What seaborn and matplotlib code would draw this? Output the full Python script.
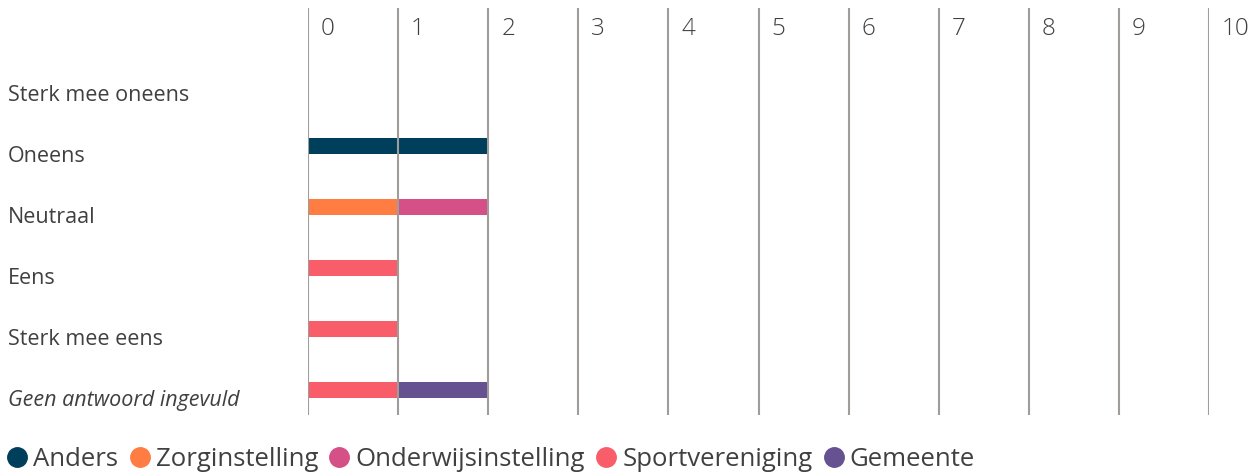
import pandas as pd
import seaborn as sns
import matplotlib.pyplot as plt
from matplotlib.lines import Line2D
from matplotlib.transforms import ScaledTranslation

# DATA
categories = ['Sterk mee oneens', 'Oneens', 'Neutraal', 'Eens',
              'Sterk mee eens', 'Geen antwoord ingevuld']
groups = ['Anders', 'Zorginstelling', 'Onderwijsinstelling',
          'Sportvereniging', 'Gemeente']
anders = [0, 2, 0, 0, 0, 0]
zorginstelling = [0, 0, 1, 0, 0, 0]
onderwijsinstelling = [0, 0, 1, 0, 0, 0]
sportvereniging = [0, 0, 0, 1, 1, 1]
gemeente = [0, 0, 0, 0, 0, 1]
x_ticks = list(range(0, 11))

colors = ['#003f5c', '#ff7c43', '#d45087', '#f95d6a', '#665191']
text_color = '#404040'
grid_color = '#a09c9a'

rows = []
for g, vals in zip(groups, [anders, zorginstelling, onderwijsinstelling,
                            sportvereniging, gemeente]):
    for c, v in zip(categories, vals):
        rows.append({'antwoord': c, 'groep': g, 'aantal': v})
df = pd.DataFrame(rows)
df['antwoord'] = pd.Categorical(df['antwoord'], categories=categories)

sns.set_theme(style='white')
plt.rcParams['font.family'] = ['Open Sans', 'DejaVu Sans']

fig = plt.figure(figsize=(12.57, 4.75), dpi=100)
ax = fig.add_axes([308 / 1257, 1 - 415 / 475, (1209 - 308) / 1257, (415 - 8) / 475])

# histplot stacks the last hue level first, so hand it the order reversed
sns.histplot(data=df, y='antwoord', weights='aantal', hue='groep',
             hue_order=groups[::-1], palette=dict(zip(groups, colors)),
             multiple='stack', discrete=True, shrink=0.27, linewidth=0,
             alpha=1, legend=False, ax=ax)

ax.set_xlim(0, 10)
ax.set_ylim(5.41, -1.26)
ax.set_xlabel('')
ax.set_ylabel('')
sns.despine(ax=ax, left=True, bottom=True, top=True, right=True)

# vertical grid on top of the bars
ax.set_axisbelow(False)
ax.xaxis.grid(True, color=grid_color, linewidth=1.5)
ax.yaxis.grid(False)

# x tick labels at the top, just right of each line
ax.set_xticks(x_ticks)
ax.xaxis.tick_top()
ax.tick_params(axis='x', length=0, pad=-15, labelsize=17.5, labelcolor=text_color)
for lab in ax.get_xticklabels():
    lab.set_va('center')
    lab.set_ha('left')
    lab.set_fontweight('light')
    lab.set_transform(lab.get_transform() + ScaledTranslation(13 / 100, 0, fig.dpi_scale_trans))

# y labels left aligned at the figure edge
ax.set_yticks(range(len(categories)))
ax.set_yticklabels(categories)
ax.tick_params(axis='y', length=0, pad=216, labelsize=15.5, labelcolor=text_color)
for lab in ax.get_yticklabels():
    lab.set_ha('left')
    lab.set_transform(lab.get_transform() + ScaledTranslation(0, -8 / 100, fig.dpi_scale_trans))
ax.get_yticklabels()[-1].set_style('italic')

handles = [Line2D([], [], marker='o', linestyle='', markersize=14,
                  markerfacecolor=c, markeredgecolor=c) for c in colors]
leg = fig.legend(handles, groups, loc='center left', ncol=5,
                 bbox_to_anchor=(0.0, 1 - 459 / 475), frameon=False,
                 fontsize=18.5, handlelength=0.75, handletextpad=0.25,
                 columnspacing=0.45, borderaxespad=0, borderpad=0.3)
for t in leg.get_texts():
    t.set_color(text_color)

fig.savefig('out.png', dpi=100)
